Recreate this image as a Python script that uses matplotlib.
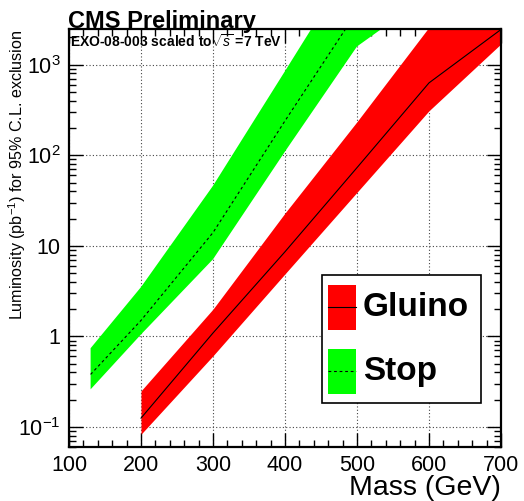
import matplotlib
matplotlib.use("Agg")
import matplotlib.pyplot as plt
from matplotlib.ticker import FixedLocator, MultipleLocator, LogLocator, FuncFormatter, NullFormatter
from matplotlib.patches import Rectangle
from matplotlib.lines import Line2D

plt.rcParams['font.family'] = ['Liberation Sans', 'DejaVu Sans']
plt.rcParams['mathtext.fontset'] = 'custom'
plt.rcParams['mathtext.rm'] = 'Liberation Sans'
plt.rcParams['mathtext.it'] = 'Liberation Sans:italic'
plt.rcParams['mathtext.bf'] = 'Liberation Sans:bold'

# ── Data ──────────────────────────────────────────────────────────────────────
gluino_mass = [200, 300, 400, 500, 600, 700]
gluino_central = [0.125, 1.09, 8.6, 73, 630, 2450]
gluino_lower = [0.083, 0.61, 4.9, 39, 310, 1700]
gluino_upper = [0.25, 2.0, 23, 235, 2600, 12000]

stop_mass = [130, 200, 300, 400, 500, 600]
stop_central = [0.38, 1.5, 14, 240, 3860, 60000]
stop_lower = [0.26, 1.05, 7.1, 110, 1590, 5900]
stop_upper = [0.74, 3.5, 46, 850, 16000, 300000]

x_ticks = [100, 200, 300, 400, 500, 600, 700]
y_ticks = [0.1, 1, 10, 100, 1000]
y_tick_labels = ["$10^{-1}$", "1", "10", "$10^{2}$", "$10^{3}$"]

RED = "#ff0000"
GREEN = "#00ff00"

fig = plt.figure(figsize=(5.24, 5.01), dpi=100)
ax = fig.add_axes([69 / 524, 1 - 447 / 501, 432 / 524, 418 / 501])

ax.fill_between(gluino_mass, gluino_lower, gluino_upper, color=RED, lw=0, zorder=2)
ax.fill_between(stop_mass, stop_lower, stop_upper, color=GREEN, lw=0, zorder=2)
ax.plot(gluino_mass, gluino_central, color="black", lw=0.8, zorder=3)
ax.plot(stop_mass, stop_central, color="black", lw=0.8, ls=(0, (2.5, 2.5)), zorder=3)

ax.set_yscale("log")
ax.set_xlim(100, 700)
ax.set_ylim(0.06, 2480)

ax.xaxis.set_major_locator(FixedLocator(x_ticks))
ax.xaxis.set_minor_locator(MultipleLocator(20))
ax.yaxis.set_major_locator(FixedLocator(y_ticks))
ax.yaxis.set_major_formatter(FuncFormatter(
    lambda v, p: y_tick_labels[y_ticks.index(v)] if v in y_ticks else ""))
ax.yaxis.set_minor_locator(LogLocator(base=10, subs=range(2, 10)))
ax.yaxis.set_minor_formatter(NullFormatter())

ax.tick_params(which="both", direction="in", top=True, right=True, width=1, color="black")
ax.tick_params(which="major", length=10, labelsize=15.5)
ax.tick_params(which="minor", length=5)
ax.tick_params(axis="x", which="major", pad=6)
ax.tick_params(axis="y", which="major", pad=6)

for sp in ax.spines.values():
    sp.set_linewidth(1.6)

ax.grid(True, which="major", color="#444444", ls=(0, (1, 2)), lw=0.8, zorder=1)
ax.set_axisbelow(True)

# Labels
ax.text(1.0, -0.115, "Mass (GeV)", transform=ax.transAxes, ha="right",
        va="baseline", fontsize=20.5)
ax.text(-0.121, 1.0, "Luminosity (pb$^{-1}$) for 95% C.L. exclusion",
        transform=ax.transAxes, rotation=90, ha="center", va="top", fontsize=11.6)
fig.text(68.3 / 524, 1 - 27.7 / 501, "CMS Preliminary", ha="left", va="baseline",
         fontsize=17, fontweight="bold")
ax.text(0.003, 0.9577, r"EXO-08-003 scaled to$\sqrt{s}$ =7 TeV", transform=ax.transAxes,
        ha="left", va="baseline", fontsize=10, fontweight="bold", zorder=5)

# Legend (ROOT style, drawn by hand)
ax.add_patch(Rectangle((0.586, 0.1045), 0.367, 0.307, transform=ax.transAxes,
                       facecolor="white", edgecolor="black", lw=1.2, zorder=6))
for (color, y0, name, style) in [(RED, 0.280, "Gluino", "-"), (GREEN, 0.127, "Stop", (0, (2.5, 2.5)))]:
    ax.add_patch(Rectangle((0.600, y0), 0.064, 0.1076, transform=ax.transAxes,
                           facecolor=color, edgecolor="none", zorder=7))
    ax.add_line(Line2D([0.600, 0.664], [y0 + 0.0538] * 2, transform=ax.transAxes,
                       color="black", lw=0.8, ls=style, zorder=8))
    ax.text(0.68, y0 + 0.0538, name, transform=ax.transAxes, ha="left", va="center",
            fontsize=24, fontweight="bold", zorder=8)

fig.savefig("out.png", dpi=100, facecolor="white")
